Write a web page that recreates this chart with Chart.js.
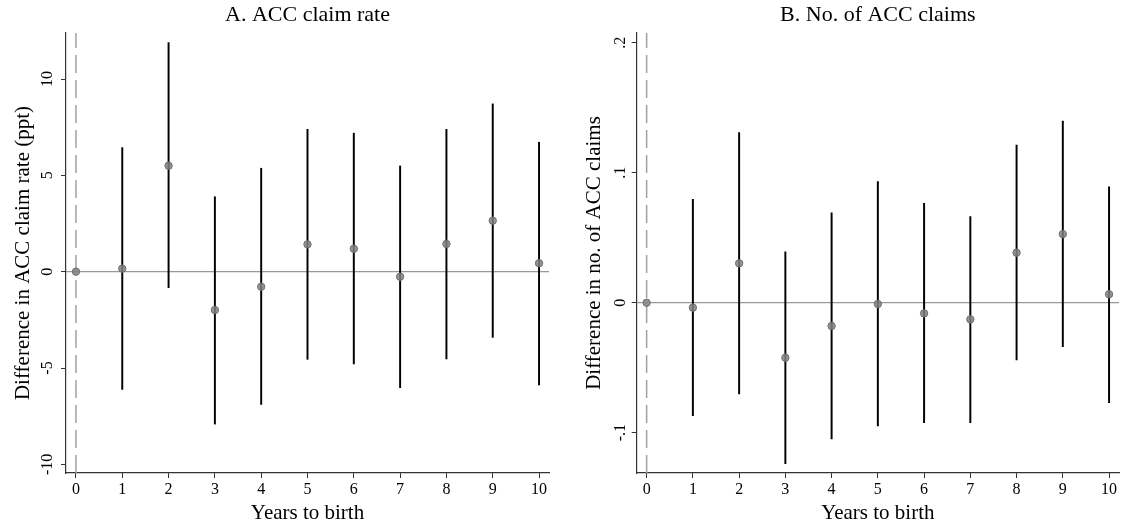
<!DOCTYPE html>
<html><head><meta charset="utf-8">
<script src="https://cdn.jsdelivr.net/npm/chart.js@4.4.1/dist/chart.umd.min.js"></script>
<style>
html,body{margin:0;padding:0;background:#fff;}
#wrap{position:relative;width:1126px;height:529px;overflow:hidden;}
.box{position:absolute;top:0;width:563px;height:529px;}
canvas{display:block;}
</style>
</head><body>
<div id="wrap">
  <div class="box" style="left:0"><canvas id="cA" width="563" height="529"></canvas></div>
  <div class="box" style="left:563px"><canvas id="cB" width="563" height="529"></canvas></div>
</div>
<script>
// ---------- data ----------
const years = [0, 1, 2, 3, 4, 5, 6, 7, 8, 9, 10];
const xTickValues = [0, 1, 2, 3, 4, 5, 6, 7, 8, 9, 10];

// Panel A: ACC claim rate (ppt)
const rateEst = [0, 0.16, 5.50, -1.99, -0.78, 1.42, 1.19, -0.26, 1.44, 2.65, 0.44];
const rateLo  = [null, -6.11, -0.83, -7.91, -6.89, -4.55, -4.79, -6.02, -4.53, -3.41, -5.88];
const rateHi  = [null, 6.44, 11.89, 3.89, 5.37, 7.39, 7.19, 5.49, 7.39, 8.71, 6.72];
const rateTicks = [-10, -5, 0, 5, 10];
const rateTickLabels = ['-10', '-5', '0', '5', '10'];

// Panel B: No. of ACC claims
const numEst = [0, -0.0038, 0.0303, -0.0423, -0.0179, -0.0010, -0.0082, -0.0128, 0.0385, 0.0528, 0.0065];
const numLo  = [null, -0.0869, -0.0702, -0.1238, -0.1048, -0.0948, -0.0923, -0.0923, -0.0441, -0.0338, -0.0769];
const numHi  = [null, 0.0795, 0.1308, 0.0392, 0.0692, 0.0931, 0.0765, 0.0662, 0.1213, 0.1398, 0.0892];
const numTicks = [-0.1, 0, 0.1, 0.2];
const numTickLabels = ['-.1', '0', '.1', '.2'];

// ---------- chart builder ----------
const FONT = "'Liberation Serif', 'Times New Roman', serif";
const X_MIN = -0.215, X_MAX = 10.215;

function makePanel(id, p) {
  const ciData = [];
  years.forEach((x, i) => { if (p.lo[i] !== null) ciData.push({x: x, y: [p.lo[i], p.hi[i]]}); });
  const ptData = years.map((x, i) => ({x: x, y: p.est[i]}));
  const zeroLine = [{x: X_MIN, y: 0}, {x: X_MAX, y: 0}];
  const vLine = [{x: 0, y: p.yMin}, {x: 0, y: p.yMax}];

  new Chart(document.getElementById(id), {
    type: 'bar',
    data: {
      datasets: [
        {type: 'scatter', data: ptData, showLine: false, pointRadius: 3.7, pointBackgroundColor: 'rgba(128,128,128,0.85)',
         pointBorderColor: '#6e6e6e', pointBorderWidth: 1, order: 0},
        {type: 'bar', data: ciData, backgroundColor: '#000', borderWidth: 0, barThickness: 1.3, order: 1},
        {type: 'scatter', data: zeroLine, showLine: true, pointRadius: 0, borderColor: '#999', borderWidth: 1.2, order: 2},
        {type: 'scatter', data: vLine, showLine: true, pointRadius: 0, borderColor: '#a0a0a0', borderWidth: 1.5,
         borderDash: [18, 7], order: 2}
      ]
    },
    options: {
      responsive: false,
      animation: false,
      events: [],
      layout: {padding: {left: 0, right: p.padRight, top: 0, bottom: 0}},
      plugins: {
        legend: {display: false},
        tooltip: {enabled: false},
        title: {display: true, text: p.title, fullSize: false, color: '#000',
                font: {family: FONT, size: 22, weight: 'normal'}, padding: {top: 2.3, bottom: 4.3}}
      },
      scales: {
        x: {
          type: 'linear', min: X_MIN, max: X_MAX, offset: false,
          afterBuildTicks: s => { s.ticks = xTickValues.map(v => ({value: v})); },
          afterFit: s => { s.height = 56; },
          ticks: {autoSkip: false, maxRotation: 0, minRotation: 0, padding: 2, color: '#000',
                  font: {family: FONT, size: 16}, callback: v => String(v)},
          grid: {drawOnChartArea: false, drawTicks: true, tickLength: 5, color: '#333', lineWidth: 1, offset: false},
          border: {display: true, color: '#333', width: 1.2},
          title: {display: true, text: 'Years to birth', color: '#000', font: {family: FONT, size: 21},
                  padding: {top: 0, bottom: 2.8}}
        },
        y: {
          type: 'linear', min: p.yMin, max: p.yMax,
          afterBuildTicks: s => { s.ticks = p.ticks.map(v => ({value: v})); },
          afterFit: s => { s.width = p.yWidth; },
          ticks: {minRotation: 90, maxRotation: 90, crossAlign: 'center', padding: 2.5, color: '#000',
                  font: {family: FONT, size: 16},
                  callback: v => { const i = p.ticks.findIndex(t => Math.abs(t - v) < 1e-9); return i >= 0 ? p.tickLabels[i] : ''; }},
          grid: {drawOnChartArea: false, drawTicks: true, tickLength: 5, color: '#333', lineWidth: 1},
          border: {display: true, color: '#333', width: 1.2},
          title: {display: true, text: p.yTitle, color: '#000', font: {family: FONT, size: 21},
                  padding: {top: p.yTitlePad, bottom: 0}}
        }
      }
    }
  });
}

makePanel('cA', {
  title: 'A. ACC claim rate', yTitle: 'Difference in ACC claim rate (ppt)',
  est: rateEst, lo: rateLo, hi: rateHi, ticks: rateTicks, tickLabels: rateTickLabels,
  yMin: -10.45, yMax: 12.39, yWidth: 66, padRight: 14, yTitlePad: 10.4
});
makePanel('cB', {
  title: 'B. No. of ACC claims', yTitle: 'Difference in no. of ACC claims',
  est: numEst, lo: numLo, hi: numHi, ticks: numTicks, tickLabels: numTickLabels,
  yMin: -0.131, yMax: 0.2075, yWidth: 73.7, padRight: 7, yTitlePad: 18.4
});
</script>
</body></html>
